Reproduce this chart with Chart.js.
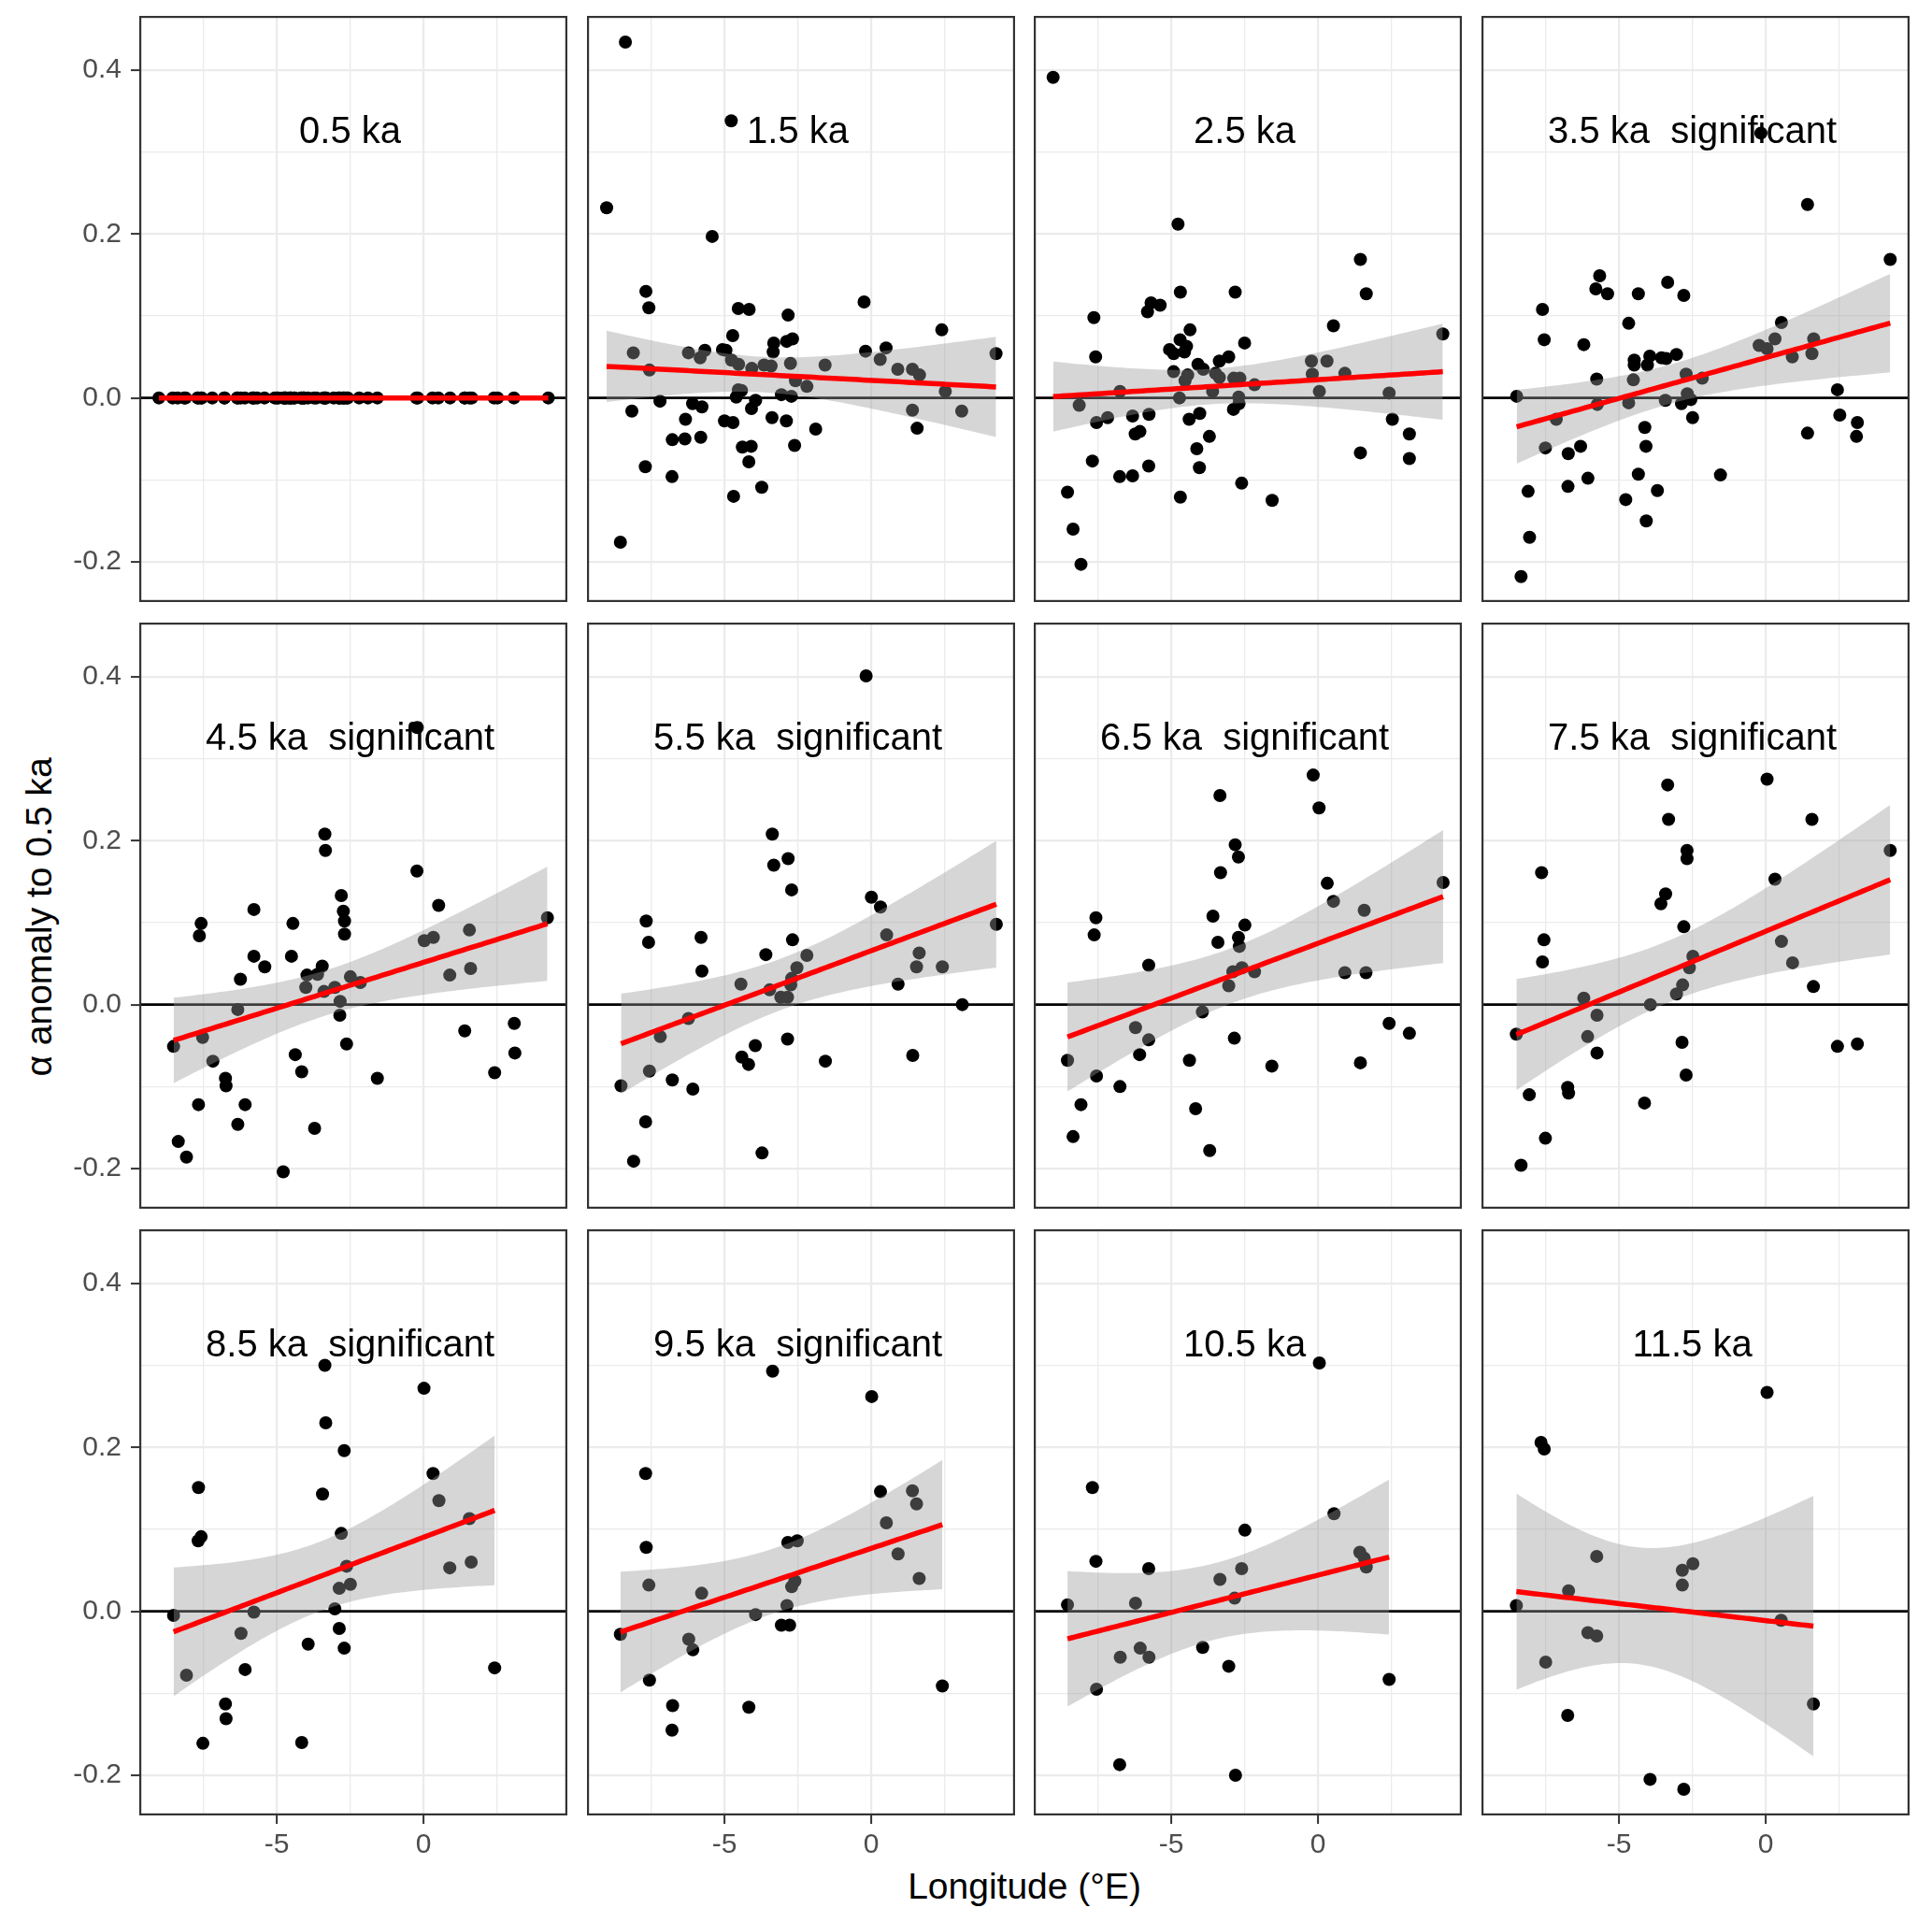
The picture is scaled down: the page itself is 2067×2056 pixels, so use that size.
<!DOCTYPE html>
<html>
<head>
<meta charset="utf-8">
<script src="https://cdn.jsdelivr.net/npm/chart.js@4.4.1/dist/chart.umd.min.js"></script>
<style>
html,body{margin:0;padding:0;background:#ffffff;}
body{width:2067px;height:2056px;position:relative;overflow:hidden;font-family:"Liberation Sans",Arial,sans-serif;}
canvas.pc{position:absolute;display:block;}
#xtitle{position:absolute;left:149px;width:1894px;top:1993px;height:50px;line-height:50px;text-align:center;font-size:39px;color:#000;}
#ytitle{position:absolute;left:42px;top:981px;transform:translate(-50%,-50%) rotate(-90deg);font-size:39px;line-height:50px;white-space:nowrap;color:#000;}
</style>
</head>
<body>
<div id="xtitle">Longitude (°E)</div>
<div id="ytitle">α anomaly to 0.5 ka</div>
<script>
// ---------------- DATA ----------------
const panelLabels = ["0.5 ka","1.5 ka","2.5 ka","3.5 ka  significant","4.5 ka  significant","5.5 ka  significant",
  "6.5 ka  significant","7.5 ka  significant","8.5 ka  significant","9.5 ka  significant","10.5 ka","11.5 ka"];

const xTickValues = [-7.5,-5,-2.5,0,2.5];
const xMajorValues = [-5,0];
const xTickLabels = ["-5","0"];
const yTickValues = [-0.2,-0.1,0,0.1,0.2,0.3,0.4];
const yMajorValues = [-0.2,0,0.2,0.4];
const yTickLabels = ["-0.2","0.0","0.2","0.4"];
const xAxisTitle = "Longitude (°E)";
const yAxisTitle = "α anomaly to 0.5 ka";

const lon_0_5 = [-8.38,-9.02,-4.77,-5.42,-7.68,-7.58,-4.53,-4.16,-2.83,-0.24,2.41,-4.72,-3.32,-2.88,-2.68,-3.34,-8.11,-6.23,-5.67,-5.83,-5.07,-4.95,-0.19,0.51,0.31,4.26,-4.76,-4.52,-4.07,-3.65,-3.41,-2.75,-1.57,0.91,1.41,1.65,-7.56,-2.58,-2.19,2.53,-4.53,-4.42,-4.60,-3.06,-2.72,-7.20,-6.09,-5.77,-3.94,-4.08,-8.16,1.41,3.09,-6.33,-5.00,-4.71,-3.38,-2.89,-1.89,1.57,-6.78,-6.35,-5.81,-4.39,-4.09,-2.61,-4.17,-7.70,-6.79,-3.73,-4.69,-8.55];
const alpha_0_5 = [0,0,0,0,0,0,0,0,0,0,0,0,0,0,0,0,0,0,0,0,0,0,0,0,0,0,0,0,0,0,0,0,0,0,0,0,0,0,0,0,0,0,0,0,0,0,0,0,0,0,0,0,0,0,0,0,0,0,0,0,0,0,0,0,0,0,0,0,0,0,0,0];

const lon_1_5 = [-8.38,-9.02,-4.77,-5.42,-7.68,-7.58,-4.53,-4.16,-2.83,-0.24,2.41,-4.72,-3.32,-2.88,-2.68,-3.34,-8.11,-6.23,-5.67,-5.83,-5.07,-4.95,-0.19,0.51,0.31,4.26,-4.76,-4.52,-4.07,-3.65,-3.41,-2.75,-1.57,0.91,1.41,1.65,-7.56,-2.58,-2.19,2.53,-4.53,-4.42,-4.60,-3.06,-2.72,-7.20,-6.09,-5.77,-3.94,-4.08,-8.16,1.41,3.09,-6.33,-5.00,-4.71,-3.38,-2.89,-1.89,1.57,-6.78,-6.35,-5.81,-4.39,-4.09,-2.61,-4.17,-7.70,-6.79,-3.73,-4.69,-8.55];
const alpha_1_5 = [0.434,0.232,0.338,0.197,0.130,0.110,0.109,0.108,0.101,0.117,0.083,0.076,0.067,0.069,0.072,0.056,0.055,0.055,0.058,0.049,0.059,0.058,0.057,0.061,0.047,0.054,0.046,0.041,0.036,0.040,0.039,0.042,0.040,0.035,0.035,0.028,0.034,0.021,0.014,0.008,0.010,0.009,0.001,0.004,0.002,-0.004,-0.007,-0.011,-0.003,-0.013,-0.016,-0.015,-0.016,-0.026,-0.028,-0.030,-0.024,-0.028,-0.038,-0.037,-0.051,-0.050,-0.048,-0.060,-0.059,-0.058,-0.078,-0.084,-0.096,-0.109,-0.120,-0.176];

const lon_2_5 = [-9.03,-4.77,1.45,-4.69,-2.82,1.65,-7.64,-5.69,-5.38,-5.81,0.53,-4.36,4.26,-4.70,-4.48,-2.50,-5.06,-4.92,-4.55,-7.58,-3.04,-3.36,-4.09,-3.91,-0.22,0.31,-4.92,0.92,-4.44,-3.49,-3.36,-2.87,-2.66,-4.53,-0.19,-2.16,-6.75,-3.59,0.05,2.43,-4.72,-2.70,-8.14,-2.69,-2.88,-7.17,-7.55,-6.32,-5.76,-4.03,-4.39,2.54,-6.07,-6.23,-3.70,3.12,-4.13,1.45,3.12,-7.69,-4.04,-5.77,-6.76,-6.32,-2.60,-4.69,-1.56,-8.54,-8.35,-8.08];
const alpha_2_5 = [0.391,0.212,0.169,0.129,0.129,0.127,0.098,0.116,0.113,0.105,0.088,0.083,0.078,0.071,0.063,0.067,0.059,0.054,0.056,0.050,0.050,0.045,0.041,0.035,0.045,0.045,0.032,0.030,0.028,0.030,0.025,0.024,0.024,0.021,0.029,0.016,0.008,0.008,0.008,0.006,0.000,0.001,-0.009,-0.007,-0.014,-0.024,-0.030,-0.022,-0.020,-0.019,-0.026,-0.026,-0.041,-0.044,-0.047,-0.044,-0.062,-0.067,-0.074,-0.077,-0.085,-0.083,-0.096,-0.095,-0.104,-0.121,-0.125,-0.115,-0.160,-0.203];

const lon_3_5 = [-0.16,1.43,4.25,-5.66,-5.79,-5.39,-4.34,-3.34,-2.79,-7.61,-4.67,0.54,-7.55,-6.20,-0.22,0.05,0.32,1.64,0.91,1.58,-3.95,-3.55,-3.39,-3.04,-4.48,-4.48,-4.03,-2.71,-2.16,-5.76,-4.51,-2.67,-2.55,2.45,-8.49,-5.74,-4.67,-3.42,-2.87,-7.14,-2.49,2.53,3.13,-4.12,1.43,3.10,-7.51,-6.31,-4.08,-6.73,-1.54,-4.34,-6.06,-6.74,-8.10,-3.69,-4.77,-4.07,-8.05,-8.34];
const alpha_3_5 = [0.323,0.236,0.169,0.149,0.133,0.127,0.127,0.141,0.125,0.108,0.091,0.092,0.071,0.065,0.064,0.060,0.072,0.072,0.050,0.054,0.051,0.049,0.048,0.053,0.046,0.040,0.040,0.029,0.024,0.023,0.022,0.005,-0.002,0.010,0.002,-0.008,-0.006,-0.003,-0.007,-0.026,-0.024,-0.021,-0.030,-0.036,-0.043,-0.047,-0.061,-0.059,-0.059,-0.068,-0.094,-0.093,-0.098,-0.108,-0.114,-0.113,-0.124,-0.150,-0.170,-0.218];

const lon_4_5 = [-0.21,-3.36,-3.34,-0.22,-2.80,0.52,-2.73,-2.69,-2.69,-5.78,-7.58,-7.64,-4.45,4.23,1.57,-5.78,-5.41,-4.50,0.03,0.34,0.90,1.61,-6.24,-3.45,-3.97,-3.61,-2.49,-2.15,-4.01,-3.39,-3.02,-2.84,-6.33,-2.85,-7.53,-8.52,-2.62,1.41,3.10,3.12,-4.37,-7.18,-4.15,2.43,-1.57,-6.75,-6.73,-7.67,-6.08,-6.33,-3.71,-8.36,-8.08,-4.78];
const alpha_4_5 = [0.338,0.208,0.188,0.163,0.133,0.121,0.114,0.102,0.086,0.116,0.099,0.084,0.099,0.106,0.091,0.059,0.046,0.059,0.078,0.082,0.036,0.044,0.031,0.047,0.036,0.037,0.034,0.027,0.021,0.016,0.021,0.004,-0.006,-0.013,-0.040,-0.051,-0.048,-0.032,-0.023,-0.059,-0.061,-0.069,-0.082,-0.083,-0.090,-0.090,-0.099,-0.122,-0.122,-0.146,-0.151,-0.167,-0.186,-0.204];

const lon_5_5 = [-0.17,-3.37,-3.32,-2.83,-2.71,0.01,0.32,-7.67,-7.59,-5.80,-2.68,0.53,4.27,-3.59,-2.19,1.64,-5.77,-2.53,1.55,2.43,-4.44,-3.46,-2.71,-2.74,0.92,-3.08,-2.85,3.11,-6.23,-7.19,-2.85,-3.95,-4.41,-4.18,-1.56,1.42,-7.56,-6.78,-8.53,-6.08,-7.69,-3.72,-8.10];
const alpha_5_5 = [0.401,0.208,0.170,0.178,0.140,0.131,0.119,0.102,0.076,0.082,0.079,0.085,0.098,0.061,0.060,0.063,0.041,0.045,0.046,0.046,0.025,0.018,0.032,0.024,0.025,0.009,0.009,0.000,-0.017,-0.039,-0.042,-0.050,-0.064,-0.073,-0.069,-0.062,-0.081,-0.092,-0.099,-0.103,-0.143,-0.181,-0.191];

const lon_6_5 = [-0.16,0.04,-3.34,-2.82,-2.71,-3.32,0.32,4.27,0.53,1.58,-7.57,-7.63,-3.58,-2.49,-2.71,-3.41,-2.68,-5.77,-2.90,-2.59,-2.16,0.92,1.64,-3.04,-3.94,-6.22,-5.77,-6.08,-2.85,2.43,3.12,-8.54,-4.38,-1.57,1.45,-7.55,-6.75,-8.08,-4.17,-8.35,-3.69];
const alpha_6_5 = [0.280,0.240,0.255,0.195,0.180,0.161,0.148,0.149,0.126,0.115,0.106,0.085,0.108,0.097,0.082,0.076,0.071,0.048,0.040,0.045,0.040,0.039,0.039,0.023,-0.009,-0.028,-0.043,-0.061,-0.041,-0.023,-0.035,-0.068,-0.068,-0.075,-0.071,-0.087,-0.100,-0.122,-0.127,-0.161,-0.178];

const lon_7_5 = [0.05,-3.34,-3.31,1.58,-2.68,-2.68,4.25,-7.64,0.32,-3.41,-3.57,-2.79,-7.56,0.54,-7.61,-2.48,-2.60,0.92,-2.83,-3.04,1.63,-6.20,-3.93,-5.75,-8.50,-6.07,-5.75,-2.85,2.45,3.13,-2.71,-6.75,-6.72,-8.06,-4.13,-7.51,-8.34];
const alpha_7_5 = [0.275,0.268,0.226,0.226,0.188,0.178,0.188,0.161,0.153,0.135,0.123,0.095,0.079,0.077,0.052,0.059,0.045,0.051,0.024,0.013,0.022,0.008,0.000,-0.013,-0.036,-0.039,-0.059,-0.046,-0.051,-0.048,-0.086,-0.101,-0.108,-0.110,-0.120,-0.163,-0.196];

const lon_8_5 = [-3.36,0.02,-3.33,-2.70,0.33,-7.67,-3.44,0.53,-7.58,-7.68,-2.80,1.57,1.63,0.90,-2.62,-2.49,-2.87,-3.02,-5.78,-8.52,-6.22,-2.87,-2.70,-3.93,-6.08,2.43,-8.08,-6.75,-6.73,-7.52,-4.15];
const alpha_8_5 = [0.300,0.272,0.230,0.196,0.168,0.151,0.143,0.135,0.091,0.086,0.095,0.113,0.060,0.053,0.055,0.033,0.028,0.003,-0.001,-0.005,-0.027,-0.021,-0.045,-0.040,-0.071,-0.069,-0.078,-0.113,-0.131,-0.161,-0.160];

const lon_9_5 = [-3.36,0.02,-7.69,0.32,1.41,1.55,0.52,-7.67,-2.84,-2.52,0.92,1.64,-7.58,-5.78,-2.60,-2.71,-2.87,-3.94,-3.06,-2.78,-8.55,-6.22,-6.08,-7.56,2.43,-6.77,-4.17,-6.79];
const alpha_9_5 = [0.293,0.262,0.168,0.146,0.147,0.131,0.108,0.078,0.084,0.086,0.070,0.040,0.032,0.022,0.037,0.030,0.007,-0.004,-0.017,-0.017,-0.028,-0.034,-0.047,-0.084,-0.091,-0.115,-0.117,-0.145];

const lon_10_5 = [0.05,-7.69,0.55,-2.49,-7.57,-5.77,-2.60,-3.34,1.43,1.58,1.65,-2.84,-6.22,-8.54,-6.06,-6.74,-5.76,-3.93,-3.04,2.43,-7.55,-6.76,-2.81];
const alpha_10_5 = [0.303,0.151,0.119,0.099,0.061,0.052,0.052,0.039,0.072,0.065,0.054,0.016,0.010,0.008,-0.045,-0.056,-0.056,-0.044,-0.067,-0.083,-0.095,-0.187,-0.200];

const lon_11_5 = [0.05,-7.66,-7.55,-5.76,-2.48,-2.84,-2.84,-6.72,-8.50,0.53,-6.06,-5.76,-7.50,1.63,-6.75,-3.94,-2.79];
const alpha_11_5 = [0.267,0.206,0.198,0.067,0.058,0.050,0.032,0.025,0.007,-0.011,-0.026,-0.030,-0.062,-0.113,-0.127,-0.205,-0.217];

const panelLon = [lon_0_5,lon_1_5,lon_2_5,lon_3_5,lon_4_5,lon_5_5,lon_6_5,lon_7_5,lon_8_5,lon_9_5,lon_10_5,lon_11_5];
const panelAlpha = [alpha_0_5,alpha_1_5,alpha_2_5,alpha_3_5,alpha_4_5,alpha_5_5,alpha_6_5,alpha_7_5,alpha_8_5,alpha_9_5,alpha_10_5,alpha_11_5];

// ---------------- LAYOUT / STYLE ----------------
const X_MIN = -9.69, X_MAX = 4.91, Y_MIN = -0.249, Y_MAX = 0.466;
const LABEL_X = -2.5, LABEL_Y = 0.324;
const PANEL_LEFT = [149, 628, 1106, 1585];
const PANEL_TOP = [17, 666, 1315];
const PANEL_W = 458, PANEL_H = 627, XAXIS_H = 60;
const FONT = '"Liberation Sans", Arial, sans-serif';

// t quantile (0.975) for the 95% confidence band of a linear fit (as geom_smooth(method="lm"))
function tq975(df){
  const z = 1.959964;
  const g1 = (Math.pow(z,3)+z)/4;
  const g2 = (5*Math.pow(z,5)+16*Math.pow(z,3)+3*z)/96;
  const g3 = (3*Math.pow(z,7)+19*Math.pow(z,5)+17*Math.pow(z,3)-15*z)/384;
  return z + g1/df + g2/(df*df) + g3/(df*df*df);
}
function linearFit(xs, ys, nOut){
  const n = xs.length;
  let mx = 0, my = 0;
  for (let i=0;i<n;i++){ mx += xs[i]; my += ys[i]; }
  mx /= n; my /= n;
  let sxx = 0, sxy = 0;
  for (let i=0;i<n;i++){ sxx += (xs[i]-mx)*(xs[i]-mx); sxy += (xs[i]-mx)*(ys[i]-my); }
  const b = sxx > 0 ? sxy/sxx : 0, a = my - b*mx;
  let sse = 0;
  for (let i=0;i<n;i++){ const r = ys[i]-a-b*xs[i]; sse += r*r; }
  const s = Math.sqrt(sse/(n-2));
  const t = tq975(n-2);
  const xmin = Math.min(...xs), xmax = Math.max(...xs);
  const line = [], upper = [], lower = [];
  for (let k=0;k<nOut;k++){
    const x = xmin + (xmax-xmin)*k/(nOut-1);
    const yhat = a + b*x;
    const se = s*Math.sqrt(1/n + (x-mx)*(x-mx)/sxx);
    line.push({x:x, y:yhat});
    upper.push({x:x, y:yhat + t*se});
    lower.push({x:x, y:yhat - t*se});
  }
  return {line, upper, lower};
}

const panelPlugin = {
  id: 'panelDeco',
  beforeDatasetsDraw(chart, args, opts){
    const ctx = chart.ctx, xs = chart.scales.x, ys = chart.scales.y;
    ctx.save();
    ctx.font = '40px ' + FONT;
    ctx.fillStyle = '#000000';
    ctx.textAlign = 'center';
    ctx.textBaseline = 'middle';
    ctx.fillText(opts.text, xs.getPixelForValue(LABEL_X), ys.getPixelForValue(LABEL_Y));
    ctx.restore();
  },
  afterDraw(chart){
    const ctx = chart.ctx, a = chart.chartArea;
    ctx.save();
    ctx.strokeStyle = '#333333';
    ctx.lineWidth = 2.2;
    ctx.strokeRect(a.left+1.1, a.top+1.1, a.right-a.left-2.2, a.bottom-a.top-2.2);
    ctx.restore();
  }
};

function isMajor(list, v){ return list.some(m => Math.abs(m - v) < 1e-9); }

for (let i=0;i<12;i++){
  const row = Math.floor(i/4), col = i%4;
  const showY = col === 0, showX = row === 2;
  const cv = document.createElement('canvas');
  cv.className = 'pc';
  const left = showY ? 0 : PANEL_LEFT[col];
  const w = PANEL_W + (showY ? PANEL_LEFT[0] : 0);
  const h = PANEL_H + (showX ? XAXIS_H : 0);
  cv.width = w; cv.height = h;
  cv.style.left = left + 'px'; cv.style.top = PANEL_TOP[row] + 'px';
  cv.style.width = w + 'px'; cv.style.height = h + 'px';
  document.body.appendChild(cv);

  const xs = panelLon[i], ys = panelAlpha[i];
  const pts = xs.map((x,k) => ({x:x, y:ys[k]}));
  const fit = linearFit(xs, ys, 80);

  new Chart(cv.getContext('2d'), {
    type: 'scatter',
    data: { datasets: [
      { data: pts, pointRadius: 7, pointHoverRadius: 7, backgroundColor: '#000000', borderWidth: 0, showLine: false, order: 3 },
      { data: fit.lower, showLine: true, pointRadius: 0, borderWidth: 0, borderColor: 'rgba(0,0,0,0)', fill: false, order: 2 },
      { data: fit.upper, showLine: true, pointRadius: 0, borderWidth: 0, borderColor: 'rgba(0,0,0,0)', fill: '-1', backgroundColor: 'rgba(153,153,153,0.4)', order: 2 },
      { data: [{x:X_MIN, y:0},{x:X_MAX, y:0}], showLine: true, pointRadius: 0, borderColor: '#000000', borderWidth: 2.7, order: 5 },
      { data: fit.line, showLine: true, pointRadius: 0, borderColor: '#ff0000', borderWidth: 5.5, fill: false, order: 0 }
    ]},
    options: {
      animation: false, responsive: false, devicePixelRatio: 1,
      events: [],
      layout: { padding: 0, autoPadding: false },
      plugins: { legend: {display:false}, tooltip: {enabled:false}, panelDeco: { text: panelLabels[i] } },
      scales: {
        x: {
          type: 'linear', min: X_MIN, max: X_MAX,
          afterBuildTicks: s => { s.ticks = xTickValues.map(v => ({value: v})); },
          afterFit: s => { s.height = showX ? XAXIS_H : 0; s.paddingLeft = 0; s.paddingRight = 0; s.paddingTop = 0; s.paddingBottom = 0; },
          border: { display: false },
          grid: {
            color: '#ebebeb',
            lineWidth: c => (c.tick && isMajor(xMajorValues, c.tick.value)) ? 2.2 : 1.3,
            drawTicks: showX, tickLength: 9, tickWidth: 2,
            tickColor: c => (c.tick && isMajor(xMajorValues, c.tick.value)) ? '#333333' : 'rgba(0,0,0,0)'
          },
          ticks: {
            display: showX, autoSkip: false, maxRotation: 0, minRotation: 0, padding: 5,
            color: '#4d4d4d', font: { family: FONT, size: 30 },
            callback: v => { const k = xMajorValues.findIndex(m => Math.abs(m - v) < 1e-9); return k >= 0 ? xTickLabels[k] : ''; }
          }
        },
        y: {
          type: 'linear', min: Y_MIN, max: Y_MAX,
          afterBuildTicks: s => { s.ticks = yTickValues.map(v => ({value: v})); },
          afterFit: s => { s.width = showY ? PANEL_LEFT[0] : 0; s.paddingLeft = 0; s.paddingRight = 0; s.paddingTop = 0; s.paddingBottom = 0; },
          border: { display: false },
          grid: {
            color: '#ebebeb',
            lineWidth: c => (c.tick && isMajor(yMajorValues, c.tick.value)) ? 2.2 : 1.3,
            drawTicks: showY, tickLength: 9, tickWidth: 2,
            tickColor: c => (c.tick && isMajor(yMajorValues, c.tick.value)) ? '#333333' : 'rgba(0,0,0,0)'
          },
          ticks: {
            display: showY, autoSkip: false, padding: 10,
            color: '#4d4d4d', font: { family: FONT, size: 30 },
            callback: v => { const k = yMajorValues.findIndex(m => Math.abs(m - v) < 1e-9); return k >= 0 ? yTickLabels[k] : ''; }
          }
        }
      }
    },
    plugins: [panelPlugin]
  });
}
</script>
</body>
</html>
